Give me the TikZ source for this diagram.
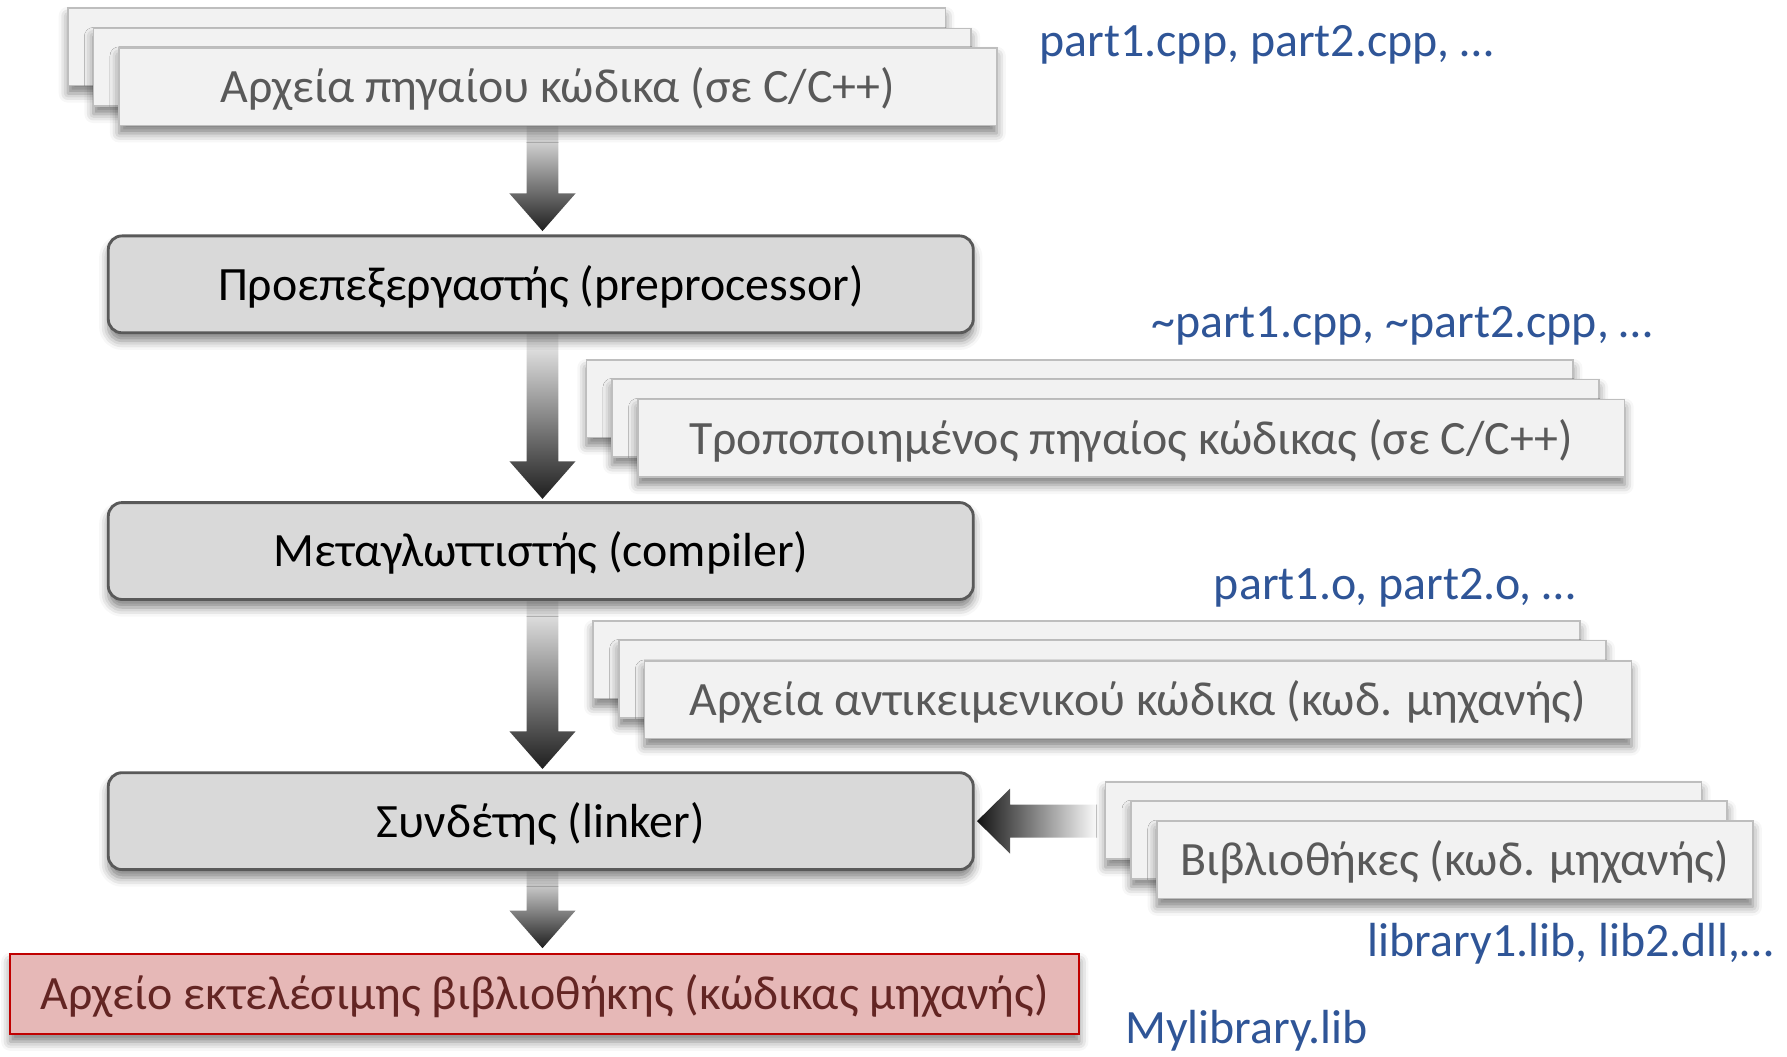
\documentclass[tikz,border=0pt]{standalone}
\usepackage{fontspec}
\setmainfont{Carlito}
\usetikzlibrary{calc,shadows.blur}

\definecolor{labelblue}{RGB}{47,85,151}
\definecolor{stackfill}{RGB}{242,242,242}
\definecolor{stackedge}{RGB}{190,190,190}
\definecolor{stacktext}{RGB}{89,89,89}
\definecolor{procfill}{RGB}{217,217,217}
\definecolor{procedge}{RGB}{89,89,89}
\definecolor{outfill}{RGB}{230,184,183}
\definecolor{outedge}{RGB}{192,0,0}
\definecolor{outtext}{RGB}{99,37,35}

\pgfdeclarelayer{bg}
\pgfsetlayers{bg,main}

\tikzset{
  txt/.style={font=\fontsize{42}{50}\selectfont, text height=33pt, text depth=5pt, inner sep=0pt},
  softshadow/.style={blur shadow={shadow xshift=0pt, shadow yshift=-7pt, shadow blur radius=8pt, shadow opacity=50}},
  sheet/.style={draw=stackedge, line width=1.5pt, fill=stackfill, minimum width=#1,
    minimum height=68pt, txt, text=stacktext, softshadow},
  procbox/.style={draw=procedge, line width=2.5pt, fill=procfill, rounded corners=12pt,
    minimum width=759pt, minimum height=85pt, txt, text=black, softshadow},
  outbox/.style={draw=outedge, line width=2pt, fill=outfill, minimum width=938pt,
    minimum height=70pt, txt, text=outtext, softshadow},
  filelabel/.style={font=\fontsize{42}{50}\selectfont, text=labelblue, anchor=base west, inner sep=0pt},
  downgrad/.style={top color=black!6, bottom color=black!88},
  leftgrad/.style={left color=black!92, right color=white},
}

% thick shaded arrow pointing down: #1 = start of the shaft, #2 = tip
\newcommand\fatdown[2]{%
  \shade[downgrad] ($(#1)+(-14,0)$) -- ($(#1)+(14,0)$) -- ($(#2)+(14,-33)$)
    -- ($(#2)+(29,-33)$) -- (#2) -- ($(#2)+(-29,-33)$) -- ($(#2)+(-14,-33)$) -- cycle;}

\begin{document}
\begin{tikzpicture}[x=1pt,y=-1pt]
\useasboundingbox (0,0) rectangle (1568,927);

% source files
\node[sheet=770pt] (src1c) at (444.5,41) {};
\node[sheet=770pt] (src1b) at (467,59) {};
\node[sheet=770pt] (src1) at (489.5,76) {Αρχεία πηγαίου κώδικα (σε C/C++)};

% preprocessor
\node[procbox] (pre) at (474.5,249.5) {Προεπεξεργαστής (preprocessor)};

% preprocessed sources
\node[sheet=866pt] (mod1c) at (947.5,350) {};
\node[sheet=866pt] (mod1b) at (970,367) {};
\node[sheet=866pt] (mod1) at (992.5,384.5) {Τροποποιημένος πηγαίος κώδικας (σε C/C++)};

% compiler
\node[procbox] (comp) at (474.5,483.5) {Μεταγλωττιστής (compiler)};

% object files
\node[sheet=866pt] (obj1c) at (953.5,579) {};
\node[sheet=866pt] (obj1b) at (976,596) {};
\node[sheet=866pt] (obj1) at (998.5,614) {Αρχεία αντικειμενικού κώδικα (κωδ. μηχανής)};

% linker
\node[procbox] (link) at (474.5,720.5) {Συνδέτης (linker)};

% libraries
\node[sheet=523pt] (lib1c) at (1231.5,720) {};
\node[sheet=523pt] (lib1b) at (1254,737) {};
\node[sheet=523pt] (lib1) at (1276.5,754.5) {Βιβλιοθήκες (κωδ. μηχανής)};

% resulting library file
\node[outbox] (out) at (478,872) {Αρχείο εκτελέσιμης βιβλιοθήκης (κώδικας μηχανής)};

% file name labels
\node[filelabel] (lab1) at (912,50) {part1.cpp, part2.cpp, …};
\node[filelabel] (lab2) at (1010,296) {\textasciitilde part1.cpp, \textasciitilde part2.cpp, …};
\node[filelabel] (lab3) at (1065,526) {part1.o, part2.o, …};
\node[filelabel] (lab4) at (1200,839) {library1.lib, lib2.dll,…};
\node[filelabel] (lab5) at (987,916) {Mylibrary.lib};

% connectors
\begin{pgfonlayer}{bg}
  \coordinate (a1s) at ($(pre.north |- src1.south)+(1.5,0)$);
  \coordinate (a1t) at ($(pre.north)+(1.5,-3)$);
  \fatdown{a1s}{a1t}
  \coordinate (a2s) at ($(pre.south)+(1.5,0)$);
  \coordinate (a2t) at ($(comp.north)+(1.5,-2)$);
  \fatdown{a2s}{a2t}
  \coordinate (a3s) at ($(comp.south)+(1.5,0)$);
  \coordinate (a3t) at ($(link.north)+(1.5,-2)$);
  \fatdown{a3s}{a3t}
  \coordinate (a4s) at ($(link.south)+(1.5,0)$);
  \coordinate (a4t) at ($(out.north)+(-2,-4)$);
  \fatdown{a4s}{a4t}
  \coordinate (a5s) at ($(lib1c.west |- link.east)+(-5,0)$);
  \coordinate (a5t) at ($(link.east)+(2,0)$);
  \shade[leftgrad] ($(a5s)+(0,-14.5)$) -- ($(a5t)+(29,-14.5)$) -- ($(a5t)+(29,-28.5)$)
    -- (a5t) -- ($(a5t)+(29,28.5)$) -- ($(a5t)+(29,14.5)$) -- ($(a5s)+(0,14.5)$) -- cycle;
\end{pgfonlayer}
\end{tikzpicture}
\end{document}
